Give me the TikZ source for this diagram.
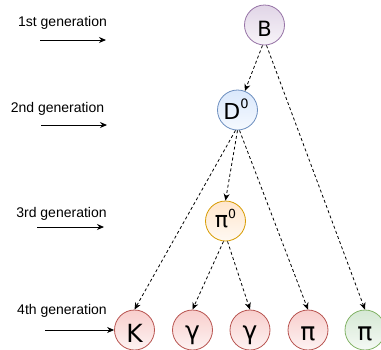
\documentclass[tikz,border=0pt]{standalone}
\usepackage{fontspec}
\setmainfont{Liberation Sans}
\newfontfamily\glyphfont{DejaVu Sans}
\usetikzlibrary{arrows.meta}

\definecolor{purpleFill}{HTML}{E1D5E7}
\definecolor{purpleLine}{HTML}{9673A6}
\definecolor{blueFill}{HTML}{DAE8FC}
\definecolor{blueLine}{HTML}{6C8EBF}
\definecolor{orangeFill}{HTML}{FFE6CC}
\definecolor{orangeLine}{HTML}{D79B00}
\definecolor{redFill}{HTML}{F8CECC}
\definecolor{redLine}{HTML}{B85450}
\definecolor{greenFill}{HTML}{D5E8D4}
\definecolor{greenLine}{HTML}{82B366}

\tikzset{
  particle/.style 2 args={circle, minimum size=40pt, inner sep=0pt,
    draw=#2, line width=0.8pt, top color=#1, bottom color=#1!25},
  glyph/.style={font=\glyphfont\fontsize{#1}{#1}\selectfont, anchor=base, inner sep=0pt},
  gen/.style={font=\fontsize{14}{16}\selectfont, anchor=base, inner sep=0pt},
  decay/.style={dash pattern=on 3pt off 2.5pt, line width=0.8pt,
    -{Stealth[length=7pt,width=6pt]}},
  genarrow/.style={line width=0.9pt, -{Stealth[length=7pt,width=6pt]}},
}

\newcommand{\supzero}[2]{\raisebox{#1pt}{\fontsize{#2}{#2}\selectfont 0}}

\begin{document}
\begin{tikzpicture}[x=1pt,y=-1pt]
  \useasboundingbox (0,0) rectangle (381,349);

  % particles
  \node[particle={purpleFill}{purpleLine}] (B)  at (264.5,25)  {};
  \node[particle={blueFill}{blueLine}]     (D)  at (237.5,110) {};
  \node[particle={orangeFill}{orangeLine}] (P0) at (225.5,221) {};
  \node[particle={redFill}{redLine}]       (K)  at (134.5,330) {};
  \node[particle={redFill}{redLine}]       (G1) at (192.5,330) {};
  \node[particle={redFill}{redLine}]       (G2) at (250,330)   {};
  \node[particle={redFill}{redLine}]       (Pr) at (308,330)   {};
  \node[particle={greenFill}{greenLine}]   (Pg) at (365,330)   {};

  % particle symbols
  \node[glyph=21] (tB)  at (264.5,36)  {B};
  \node[glyph=22] (tD)  at (236,119)   {D\supzero{11}{13}};
  \node[glyph=22] (tP0) at (225.5,227) {π\supzero{9}{12.5}};
  \node[glyph=25] (tK)  at (134.5,342) {K};
  \node[glyph=25] (tG1) at (192.5,339) {γ};
  \node[glyph=25] (tG2) at (250,339)   {γ};
  \node[glyph=25] (tPr) at (308,340)   {π};
  \node[glyph=25] (tPg) at (365,340)   {π};

  % decay chains
  \draw[decay] ([xshift=-2pt]B.south) -- (D);
  \draw[decay] ([xshift=2pt]B.south) -- (Pg.north);
  \draw[decay] ([xshift=-2pt]D.south) -- (K.north);
  \draw[decay] (D.south) -- (P0.north);
  \draw[decay] ([xshift=2pt]D.south) -- (Pr.north);
  \draw[decay] ([xshift=-2pt]P0.south) -- (G1.north);
  \draw[decay] ([xshift=2pt]P0.south) -- (G2.north);

  % generation labels
  \node[gen] (l1) at (62.5,26)  {1st generation};
  \node[gen] (l2) at (57.5,112) {2nd generation};
  \node[gen] (l3) at (61.5,217) {3rd generation};
  \node[gen] (l4) at (62,314)   {4th generation};

  \coordinate (a1s) at (40,40);  \coordinate (a1e) at (106,40);
  \coordinate (a2s) at (41,125); \coordinate (a2e) at (107,125);
  \coordinate (a3s) at (37,227); \coordinate (a3e) at (104,227);
  \coordinate (a4s) at (45,330);
  \draw[genarrow] (a1s) -- (a1e);
  \draw[genarrow] (a2s) -- (a2e);
  \draw[genarrow] (a3s) -- (a3e);
  \draw[genarrow] (a4s) -- (K);
\end{tikzpicture}
\end{document}
